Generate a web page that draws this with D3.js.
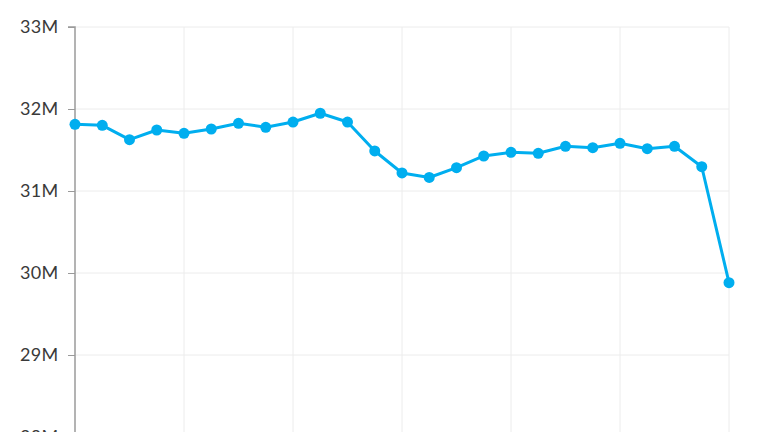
<!DOCTYPE html>
<html><head><meta charset="utf-8">
<script src="https://cdn.jsdelivr.net/npm/d3@7"></script>
<style>
html,body{margin:0;padding:0;background:#fff;overflow:hidden;}
svg{display:block;}
</style></head>
<body><svg id="c" width="764" height="432"></svg>
<script>
const categories = d3.range(1, 26).map(String);
const values = [31.813, 31.801, 31.626, 31.744, 31.704, 31.756, 31.826, 31.777, 31.841, 31.948,
  31.841, 31.488, 31.220, 31.165, 31.284, 31.427, 31.472, 31.460, 31.545, 31.528,
  31.582, 31.516, 31.545, 31.296, 29.882].map(v => v * 1e6);
const yTicks = [28e6, 29e6, 30e6, 31e6, 32e6, 33e6];
const xGridCats = categories.filter((d, i) => i % 4 === 0);

(function () {
const svg = d3.select("#c");
const mL = 75, mR = 729, mT = 27, mB = 437;
const x = d3.scalePoint().domain(categories).range([mL, mR]);
const y = d3.scaleLinear().domain([28e6, 33e6]).range([mB, mT]);

svg.append("g").selectAll("line").data(yTicks).join("line")
  .attr("x1", mL).attr("x2", mR)
  .attr("y1", d => y(d)).attr("y2", d => y(d))
  .attr("stroke", "#ececec").attr("stroke-width", 1);
svg.append("g").selectAll("line").data(xGridCats.slice(1)).join("line")
  .attr("x1", d => x(d)).attr("x2", d => x(d))
  .attr("y1", mT).attr("y2", mB)
  .attr("stroke", "#ececec").attr("stroke-width", 1);

const yAxis = d3.axisLeft(y).tickValues(yTicks).tickSize(7).tickPadding(9.5)
  .tickFormat(d => (d / 1e6) + "M");
const ga = svg.append("g").attr("transform", `translate(${mL},0)`).call(yAxis);
ga.select(".domain").attr("stroke", "#9a9a9a").attr("stroke-width", 1.5).attr("d", `M-7,${mT}H0V${mB}`);
ga.selectAll(".tick line").attr("stroke", "#9a9a9a");
ga.selectAll(".tick text").attr("fill", "#3a3a3a")
  .style("font-family", "Lato, 'Open Sans', sans-serif").style("font-size", "18px")
  .style("letter-spacing", "0.3px");

const data = categories.map((c, i) => ({c, v: values[i]}));
svg.append("path").datum(data)
  .attr("fill", "none").attr("stroke", "#00aeef").attr("stroke-width", 3)
  .attr("stroke-linejoin", "round")
  .attr("d", d3.line().x(d => x(d.c)).y(d => y(d.v)));
svg.append("g").selectAll("circle").data(data).join("circle")
  .attr("cx", d => x(d.c)).attr("cy", d => y(d.v)).attr("r", 5.5)
  .attr("fill", "#00aeef");
})();
</script></body></html>
